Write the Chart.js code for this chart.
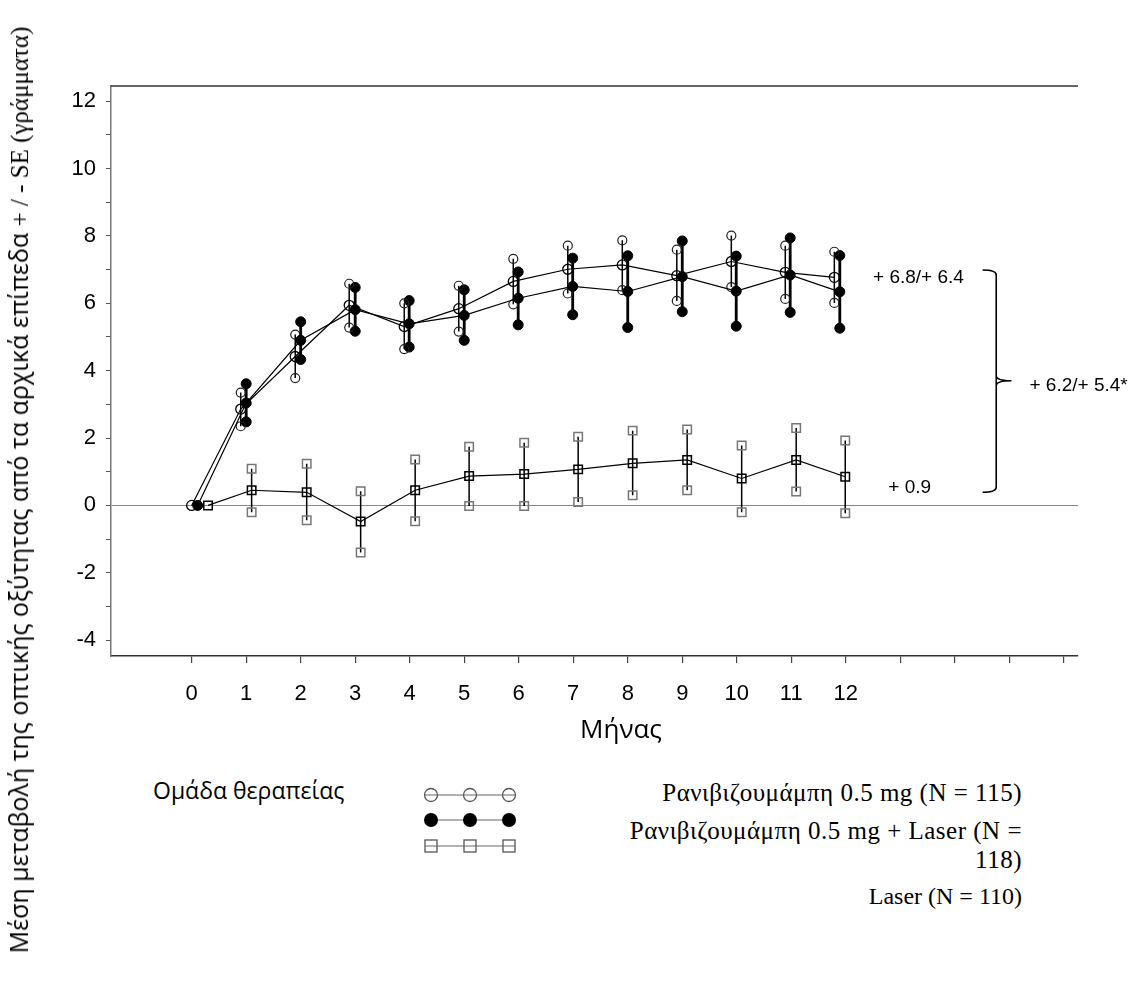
<!DOCTYPE html>
<html>
<head>
<meta charset="utf-8">
<script src="https://cdn.jsdelivr.net/npm/chart.js@4.4.1/dist/chart.umd.min.js"></script>
<style>
  body { margin: 0; background: #fff; width: 1134px; height: 989px; position: relative; overflow: hidden; }
  #wrap { position: absolute; left: 0; top: 0; width: 1134px; height: 760px; }
  .txt { position: absolute; white-space: nowrap; color: #000; }
  .sans { font-family: "Open Sans", sans-serif; }
  .serif { font-family: "Liberation Serif", serif; }
  #ytitle { left: 18px; top: 490px; transform: translate(-50%, -50%) rotate(-90deg); font-size: 25px; }
  #xtitle { left: 621px; top: 728px; transform: translate(-50%, -50%); font-size: 26px; }
  #group { left: 153px; top: 790px; transform: translateY(-50%); font-size: 23px; }
  .leg { right: 112px; font-size: 25px; text-align: right; line-height: 29px; letter-spacing: 0.5px; }
</style>
</head>
<body>
<div id="wrap"><canvas id="chart"></canvas></div>

<div id="ytitle" class="txt"><span class="sans">Μέση μεταβολή της οπτικής οξύτητας από τα αρχικά επίπεδα </span><span class="serif">+ / - SE (γράμματα)</span></div>
<div id="xtitle" class="txt sans">Μήνας</div>

<div id="group" class="txt sans">Ομάδα θεραπείας</div>
<svg style="position:absolute; left:420px; top:780px;" width="100" height="80">
  <circle cx="11" cy="15" r="6.5" fill="#fff" stroke="#555" stroke-width="1.3"/>
  <circle cx="50" cy="15" r="6.5" fill="#fff" stroke="#555" stroke-width="1.3"/>
  <circle cx="89" cy="15" r="6.5" fill="#fff" stroke="#555" stroke-width="1.3"/>
  <line x1="5" y1="15" x2="95" y2="15" stroke="#666" stroke-width="1.2"/>
  <line x1="5" y1="40" x2="95" y2="40" stroke="#666" stroke-width="1.2"/>
  <circle cx="11" cy="40" r="7" fill="#000"/>
  <circle cx="50" cy="40" r="7" fill="#000"/>
  <circle cx="89" cy="40" r="7" fill="#000"/>
  <rect x="5" y="60" width="12" height="12" fill="#fff" stroke="#555" stroke-width="1.3"/>
  <rect x="44" y="60" width="12" height="12" fill="#fff" stroke="#555" stroke-width="1.3"/>
  <rect x="83" y="60" width="12" height="12" fill="#fff" stroke="#555" stroke-width="1.3"/>
  <line x1="5" y1="66" x2="95" y2="66" stroke="#666" stroke-width="1.2"/>
</svg>
<div class="txt serif leg" style="top:778px;">Ρανιβιζουμάμπη 0.5 mg (N = 115)</div>
<div class="txt serif leg" style="top:816px;">Ρανιβιζουμάμπη 0.5 mg + Laser (N =<br>118)</div>
<div class="txt serif leg" style="top:882px; font-size:24px; letter-spacing:0;">Laser (N = 110)</div>

<script>
// x positions (months) of each visit, per group as plotted
const xRanibizumab = [0, 0.9, 1.9, 2.89, 3.9, 4.9, 5.9, 6.9, 7.9, 8.9, 9.9, 10.89, 11.79];
const xCombined    = [0.11, 1.0, 2.0, 3.0, 3.99, 5.0, 5.99, 6.99, 8.0, 9.0, 9.99, 10.98, 11.89];
const xLaser       = [0.3, 1.1, 2.11, 3.1, 4.1, 5.09, 6.1, 7.09, 8.09, 9.09, 10.09, 11.09, 11.99];

// Ranibizumab 0.5 mg (open circles)
const ranMean  = [0, 2.86, 4.42, 5.94, 5.31, 5.84, 6.65, 7.01, 7.14, 6.82, 7.24, 6.92, 6.77];
const ranUpper = [null, 3.35, 5.07, 6.58, 6.00, 6.52, 7.32, 7.71, 7.87, 7.59, 8.01, 7.71, 7.53];
const ranLower = [null, 2.35, 3.78, 5.28, 4.64, 5.16, 5.97, 6.29, 6.39, 6.07, 6.48, 6.13, 6.01];

// Ranibizumab 0.5 mg + Laser (filled circles)
const combMean  = [0, 3.04, 4.90, 5.81, 5.39, 5.64, 6.15, 6.50, 6.35, 6.79, 6.36, 6.84, 6.34];
const combUpper = [null, 3.61, 5.45, 6.47, 6.08, 6.40, 6.93, 7.34, 7.41, 7.85, 7.40, 7.94, 7.42];
const combLower = [null, 2.48, 4.33, 5.17, 4.70, 4.90, 5.36, 5.66, 5.28, 5.75, 5.32, 5.73, 5.26];

// Laser (squares)
const laserMean  = [0, 0.45, 0.39, -0.48, 0.45, 0.87, 0.93, 1.07, 1.25, 1.35, 0.80, 1.35, 0.85];
const laserUpper = [null, 1.09, 1.24, 0.42, 1.36, 1.74, 1.86, 2.04, 2.22, 2.25, 1.78, 2.30, 1.93];
const laserLower = [null, -0.20, -0.44, -1.40, -0.47, -0.02, -0.02, 0.10, 0.30, 0.45, -0.20, 0.41, -0.23];

// ticks
const xTickValues = [0, 1, 2, 3, 4, 5, 6, 7, 8, 9, 10, 11, 12, 13, 14, 15, 16];
const xTickLabels = ['0', '1', '2', '3', '4', '5', '6', '7', '8', '9', '10', '11', '12', '', '', '', ''];
const yTickValues = [-4, -3, -2, -1, 0, 1, 2, 3, 4, 5, 6, 7, 8, 9, 10, 11, 12];
const yTickLabels = ['-4', '', '-2', '', '0', '', '2', '', '4', '', '6', '', '8', '', '10', '', '12'];

// annotations at the right (data coordinates)
const notes = [
    { text: '+ 6.8/+ 6.4', x: 12.5, y: 6.76 },
    { text: '+ 6.2/+ 5.4*', x: 15.37, y: 3.54 },
    { text: '+ 0.9', x: 12.78, y: 0.53 }
];
const brace = { x: 14.76, top: 6.99, bottom: 0.39, mid: 3.70, hook: 0.25, tip: 0.28 };

function meanPoints(xs, ys) {
    return xs.map(function (x, i) { return { x: x, y: ys[i] }; });
}

function whiskerPoints(xs, lo, hi) {
    const pts = [];
    xs.forEach(function (x, i) {
        if (lo[i] === null) return;
        pts.push({ x: x, y: lo[i] }, { x: x, y: hi[i] }, { x: x, y: null });
    });
    return pts;
}

const extrasPlugin = {
    id: 'extras',
    afterDraw: function (chart) {
        const ctx = chart.ctx;
        const area = chart.chartArea;
        const xs = chart.scales.x;
        const ys = chart.scales.y;
        ctx.save();
        // top frame line
        ctx.strokeStyle = '#333';
        ctx.lineWidth = 1.5;
        ctx.beginPath();
        ctx.moveTo(area.left, area.top);
        ctx.lineTo(area.right, area.top);
        ctx.stroke();

        // brace
        const bx = xs.getPixelForValue(brace.x);
        const hx = xs.getPixelForValue(brace.x - brace.hook);
        const tx = xs.getPixelForValue(brace.x + brace.tip);
        const yt = ys.getPixelForValue(brace.top);
        const yb = ys.getPixelForValue(brace.bottom);
        const ym = ys.getPixelForValue(brace.mid);
        ctx.strokeStyle = '#000';
        ctx.lineWidth = 1.6;
        ctx.beginPath();
        ctx.moveTo(hx, yt);
        ctx.quadraticCurveTo(bx, yt, bx, yt + 5);
        ctx.lineTo(bx, yb - 5);
        ctx.quadraticCurveTo(bx, yb, hx, yb);
        ctx.moveTo(bx, ym - 5);
        ctx.quadraticCurveTo(bx, ym, tx, ym);
        ctx.quadraticCurveTo(bx, ym, bx, ym + 5);
        ctx.stroke();

        // labels
        ctx.fillStyle = '#000';
        ctx.font = '19px "Liberation Sans", Arial, sans-serif';
        ctx.textAlign = 'left';
        ctx.textBaseline = 'middle';
        notes.forEach(function (n) {
            ctx.fillText(n.text, xs.getPixelForValue(n.x), ys.getPixelForValue(n.y));
        });
        ctx.restore();
    }
};

new Chart(document.getElementById('chart'), {
    type: 'line',
    data: {
        datasets: [
            {
                label: 'Ρανιβιζουμάμπη 0.5 mg',
                data: meanPoints(xRanibizumab, ranMean),
                borderColor: '#000', borderWidth: 1.2,
                pointStyle: 'circle', pointRadius: 5,
                pointBorderColor: '#000', pointBorderWidth: 1.3,
                pointBackgroundColor: 'rgba(255,255,255,0)'
            },
            {
                label: 'Ρανιβιζουμάμπη 0.5 mg + Laser',
                data: meanPoints(xCombined, combMean),
                borderColor: '#000', borderWidth: 1.2,
                pointStyle: 'circle', pointRadius: 5,
                pointBorderColor: '#000', pointBorderWidth: 1,
                pointBackgroundColor: '#000'
            },
            {
                label: 'Laser',
                data: meanPoints(xLaser, laserMean),
                borderColor: '#000', borderWidth: 1.2,
                pointStyle: 'rect', pointRadius: 6,
                pointBorderColor: '#000', pointBorderWidth: 1.5,
                pointBackgroundColor: 'rgba(255,255,255,0)'
            },
            {
                label: 'SE Ρανιβιζουμάμπη',
                data: whiskerPoints(xRanibizumab, ranLower, ranUpper),
                borderColor: '#000', borderWidth: 1.5, spanGaps: false,
                pointStyle: 'circle', pointRadius: 4.5,
                pointBorderColor: '#222', pointBorderWidth: 1.2,
                pointBackgroundColor: 'rgba(255,255,255,0)'
            },
            {
                label: 'SE Ρανιβιζουμάμπη + Laser',
                data: whiskerPoints(xCombined, combLower, combUpper),
                borderColor: '#000', borderWidth: 2.8, spanGaps: false,
                pointStyle: 'circle', pointRadius: 5,
                pointBorderColor: '#000', pointBorderWidth: 1,
                pointBackgroundColor: '#000'
            },
            {
                label: 'SE Laser',
                data: whiskerPoints(xLaser, laserLower, laserUpper),
                borderColor: '#000', borderWidth: 1.5, spanGaps: false,
                pointStyle: 'rect', pointRadius: 6,
                pointBorderColor: '#777', pointBorderWidth: 1.5,
                pointBackgroundColor: 'rgba(255,255,255,0)'
            }
        ]
    },
    options: {
        responsive: true,
        maintainAspectRatio: false,
        animation: false,
        events: [],
        layout: { padding: { left: 0, top: 86, right: 56, bottom: 0 } },
        plugins: {
            legend: { display: false },
            tooltip: { enabled: false }
        },
        scales: {
            x: {
                type: 'linear',
                min: -1.48,
                max: 16.26,
                afterBuildTicks: function (scale) {
                    scale.ticks = xTickValues.map(function (v) { return { value: v }; });
                },
                afterFit: function (scale) { scale.height = 104; },
                border: { color: '#333', width: 1.5 },
                grid: { color: 'rgba(0,0,0,0)', tickColor: '#444', tickLength: 7, lineWidth: 1.2 },
                ticks: {
                    autoSkip: false,
                    maxRotation: 0,
                    padding: 18,
                    color: '#000',
                    font: { family: '"Liberation Sans", Arial, sans-serif', size: 22 },
                    callback: function (v) { return xTickLabels[xTickValues.indexOf(v)]; }
                }
            },
            y: {
                type: 'linear',
                min: -4.47,
                max: 12.45,
                afterBuildTicks: function (scale) {
                    scale.ticks = yTickValues.map(function (v) { return { value: v }; });
                },
                afterFit: function (scale) { scale.width = 111; },
                border: { color: '#777', width: 1.5 },
                grid: {
                    drawOnChartArea: true,
                    color: function (c) { return c.tick && c.tick.value === 0 ? '#888' : 'rgba(0,0,0,0)'; },
                    tickColor: '#555',
                    tickLength: 5,
                    lineWidth: 1
                },
                ticks: {
                    autoSkip: false,
                    padding: 10,
                    color: '#000',
                    font: { family: '"Liberation Sans", Arial, sans-serif', size: 22 },
                    callback: function (v) { return yTickLabels[yTickValues.indexOf(v)]; }
                }
            }
        }
    },
    plugins: [extrasPlugin]
});
</script>
</body>
</html>
